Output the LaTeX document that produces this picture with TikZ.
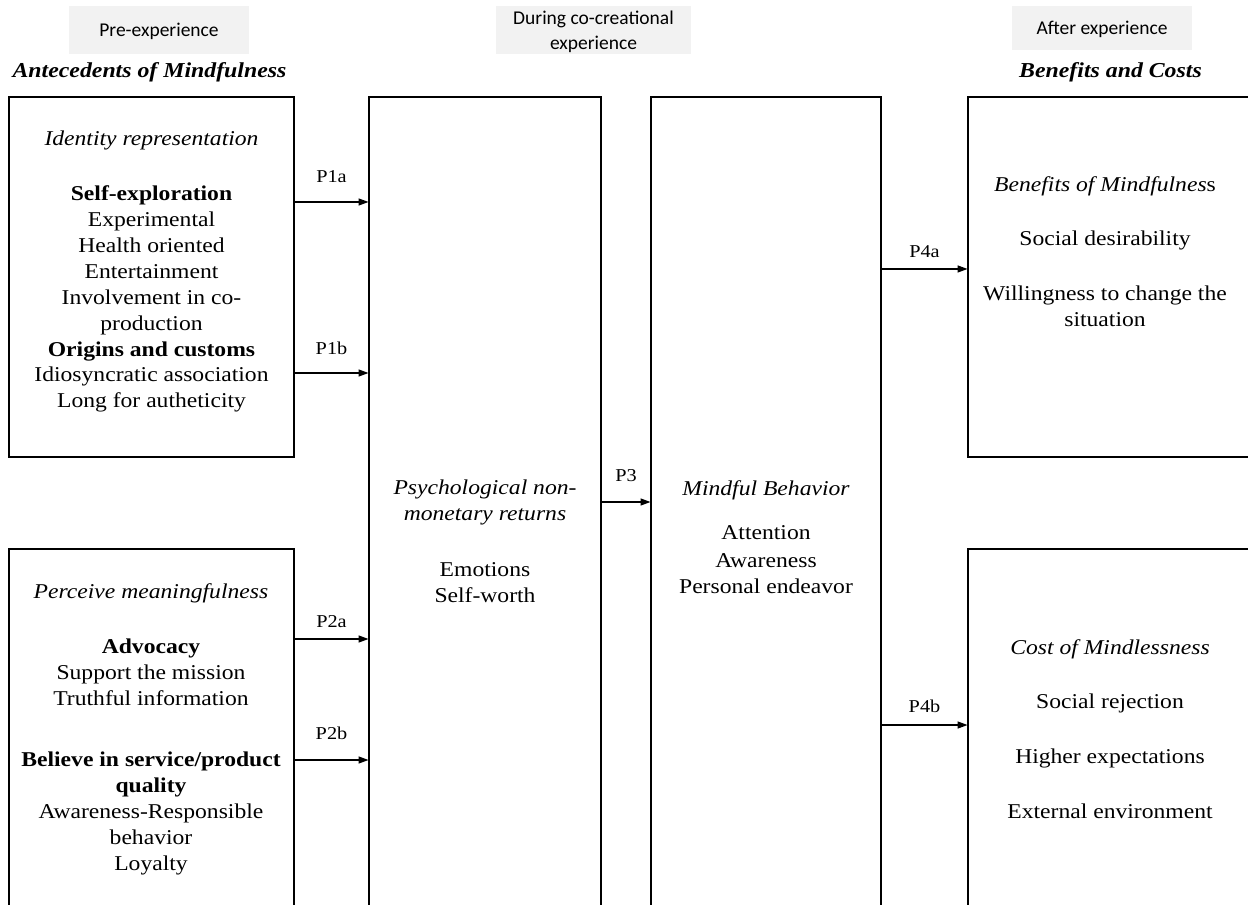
\documentclass[tikz,border=0pt]{standalone}
\usepackage{fontspec}
\setmainfont{Liberation Serif}[FakeStretch=1.12]
\newfontfamily\calibri{Carlito}
\usetikzlibrary{fit,arrows.meta}

\tikzset{
  box/.style={draw, line width=0.6pt, inner sep=0pt},
  phase/.style={fill=gray!10, inner sep=0pt, text depth=0pt, align=center, font=\calibri\fontsize{11.1}{14.2}\selectfont},
  head/.style={inner sep=0pt, font=\fontsize{12.1}{16}\selectfont\bfseries\itshape},
  body/.style={anchor=north, inner sep=0pt, align=center, font=\fontsize{12}{14.74}\selectfont},
  lab/.style={inner sep=0pt, font=\fontsize{10.3}{13}\selectfont},
  arr/.style={-{Triangle[length=5.6pt,width=4pt]}, line width=0.6pt},
}

\begin{document}
\begin{tikzpicture}[x=0.02cm,y=-0.02cm]
\clip (0,0) rectangle (1248,905);

% Phase labels and column headings.
\node[phase, minimum width=3.6cm, minimum height=0.96cm] (pre) at (159,30) {Pre-experience};
\node[phase, minimum width=3.9cm, minimum height=0.96cm] (during) at (593.5,30) {During co-creational\\experience};
\node[phase, minimum width=3.6cm, minimum height=0.88cm] (after) at (1102,28) {After experience};
\node[head] (antec) at (149.5,72) {Antecedents of Mindfulness};
\node[head] (bencost) at (1110.5,72) {Benefits and Costs};

% Boxes.
\node[box, fit={(9,97) (294,457)}] (idbox) {};
\node[box, fit={(9,549) (294,930)}] (perbox) {};
\node[box, fit={(369,97) (601,930)}] (psybox) {};
\node[box, fit={(651,97) (881,930)}] (mindbox) {};
\node[box, fit={(968,97) (1270,457)}] (benbox) {};
\node[box, fit={(968,549) (1270,930)}] (costbox) {};

% Box contents.
\node[body] (idtext) at (151.5,131) {\textit{Identity representation}\\[16.4pt]
  \textbf{Self-exploration}\\ Experimental\\ Health oriented\\ Entertainment\\
  Involvement in co-\\ production\\ \textbf{Origins and customs}\\
  Idiosyncratic association\\ Long for autheticity};
\node[body] (pertext) at (151,583) {\textit{Perceive meaningfulness}\\[17pt]
  \textbf{Advocacy}\\ Support the mission\\ Truthful information\\[19.8pt]
  \textbf{Believe in service/product}\\ \textbf{quality}\\
  Awareness-Responsible\\ behavior\\ Loyalty};
\node[body] (psytext) at (485,480) {\textit{Psychological non-}\\ \textit{monetary returns}\\[17pt]
  Emotions\\ Self-worth};
\node[body] (mindtext) at (766,480) {\textit{Mindful Behavior}\\[10.2pt]
  Attention\\[1.7pt] Awareness\\ Personal endeavor};
\node[body] (bentext) at (1105,176) {\textit{Benefits of Mindfulnes}s\\[16.4pt]
  Social desirability\\[16.4pt] Willingness to change the\\ situation};
\node[body] (costtext) at (1110,639) {\textit{Cost of Mindlessness}\\[16.4pt]
  Social rejection\\[16.4pt] Higher expectations\\[16.4pt] External environment};

% Arrows between the boxes.
\coordinate (p1a) at (0,202);
\coordinate (p1b) at (0,373);
\coordinate (p2a) at (0,639);
\coordinate (p2b) at (0,760);
\coordinate (p3) at (0,502);
\coordinate (p4a) at (0,269);
\coordinate (p4b) at (0,725);
\draw[arr] (idbox.east |- p1a) -- (psybox.west |- p1a) node[lab, midway, above=10.8pt] {P1a};
\draw[arr] (idbox.east |- p1b) -- (psybox.west |- p1b) node[lab, midway, above=10.2pt] {P1b};
\draw[arr] (perbox.east |- p2a) -- (psybox.west |- p2a) node[lab, midway, above=6.2pt] {P2a};
\draw[arr] (perbox.east |- p2b) -- (psybox.west |- p2b) node[lab, midway, above=11.3pt] {P2b};
\draw[arr] (psybox.east |- p3) -- (mindbox.west |- p3) node[lab, midway, above=11.3pt] {P3};
\draw[arr] (mindbox.east |- p4a) -- (benbox.west |- p4a) node[lab, midway, above=6.2pt] {P4a};
\draw[arr] (mindbox.east |- p4b) -- (costbox.west |- p4b) node[lab, midway, above=6.8pt] {P4b};
\end{tikzpicture}
\end{document}
